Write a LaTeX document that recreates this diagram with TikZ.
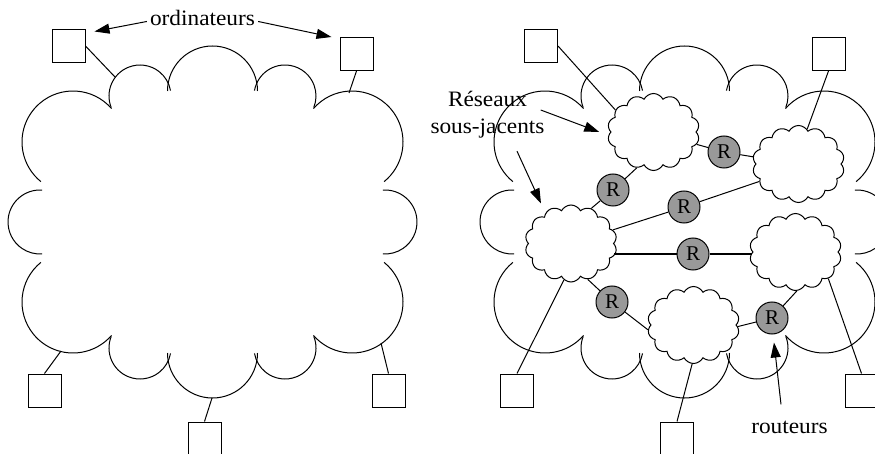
\documentclass[tikz,border=0pt]{standalone}
\usepackage{fontspec}
\setmainfont{Liberation Serif}
\newfontfamily\labelfont{Liberation Serif}[FakeStretch=1.06]
\usetikzlibrary{shapes.symbols, arrows.meta}

\definecolor{routergray}{gray}{0.6}

% one lobe of the large cloud: centre x, centre y, radius, start angle, end angle
\newcommand\cloudlobe[5]{%
  \draw[outline] (#1,#2) ++(#4:#3) arc[start angle=#4, end angle=#5, radius=#3];}

\tikzset{
  outline/.style={line width=1pt},
  wire/.style={line width=1pt},
  arr/.style={line width=1pt, -{Triangle[length=15pt, width=10pt]}},
  comp/.style={draw, line width=1pt, minimum size=33pt, inner sep=0pt},
  net/.style={cloud, cloud puffs=14, cloud puff arc=125, aspect=1.2, draw,
              line width=1pt, inner sep=0pt, minimum width=92pt, minimum height=77pt},
  router/.style={circle, draw, line width=1pt, fill=routergray, minimum size=32pt,
                 inner sep=0pt, font=\fontsize{21}{21}\selectfont},
  lbl/.style={font=\labelfont\fontsize{22}{27}\selectfont, inner sep=3pt},
  bigcloud/.pic={
    \cloudlobe{0}{131}{45}{180}{0}
    \cloudlobe{-72.5}{126}{31}{202}{10}
    \cloudlobe{72.5}{126}{31}{170}{-22}
    \cloudlobe{-139.5}{80}{51}{41}{231}
    \cloudlobe{139.5}{80}{51}{139}{-51}
    \cloudlobe{-172.5}{0}{32}{86}{274}
    \cloudlobe{172.5}{0}{32}{94}{-94}
    \cloudlobe{-139.5}{-80}{51}{129}{319}
    \cloudlobe{139.5}{-80}{51}{51}{-139}
    \cloudlobe{0}{-131}{45}{180}{360}
    \cloudlobe{-72.5}{-126}{31}{158}{350}
    \cloudlobe{72.5}{-126}{31}{22}{-170}
  },
}

\begin{document}
\begin{tikzpicture}[x=1pt, y=1pt]
\useasboundingbox (0,0) rectangle (875,453);
\clip (0,0) rectangle (875,453);

% ---------- left: a single network ----------
\pic at (212.5,231) {bigcloud};

\coordinate (eTL) at (115,376);
\coordinate (eTR) at (349,360);
\coordinate (eBL) at (61,102);
\coordinate (eBR) at (381,110);
\coordinate (eBM) at (212,55);

\node[comp] (cTL) at (68.5,407) {};
\node[comp] (cTR) at (356.5,399) {};
\node[comp] (cBL) at (44.5,62.5) {};
\node[comp] (cBR) at (388.5,62.5) {};
\node[comp] (cBM) at (204.5,14.5) {};

\draw[wire] (cTL.east) -- (eTL);
\draw[wire] (cTR.south) -- (eTR);
\draw[wire] (cBL.north) -- (eBL);
\draw[wire] (cBR.north) -- (eBR);
\draw[wire] (cBM.north) -- (eBM);

\node[lbl, anchor=base] (ord) at (202.5,427) {ordinateurs};
\draw[arr] ([yshift=-3pt]ord.west) -- ([xshift=9pt, yshift=-2.5pt]cTL.north east);
\draw[arr] ([yshift=-3pt]ord.east) -- ([xshift=-8pt]cTR.north west);

% ---------- right: interconnected networks ----------
\pic at (684.5,231) {bigcloud};

\node[net] (s1) at (653.5,321) {};
\node[net] (s2) at (798.5,289) {};
\node[net] (s3) at (571,209.5) {};
\node[net] (s4) at (795.5,201) {};
\node[net] (s5) at (693.5,128) {};

\node[router] (r1) at (724,301) {R};
\node[router] (r2) at (613,263) {R};
\node[router] (r3) at (684,246) {R};
\node[router] (r4) at (693,199) {R};
\node[router] (r5) at (612,151) {R};
\node[router] (r6) at (772,135) {R};

\draw[wire] (s1.-16) -- (r1) -- (s2.171);
\draw[wire] (s3.60) -- (r2) -- (s1.245);
\draw[wire] (s3.18) -- (r3) -- (s2.204);
\draw[wire, line width=1.6pt] (r4 -| s3.east) -- (r4) -- (r4 -| s4.west);
\draw[wire] (s3.-65) -- (r5) -- (s5.186);
\draw[wire] (s5.-2) -- (r6) -- (s4.-88);

\node[comp] (dTL) at (541,407) {};
\node[comp] (dTR) at (828.5,399) {};
\node[comp] (dBL) at (517,62.5) {};
\node[comp] (dBM) at (677,14.5) {};
\node[comp] (dBR) at (861.5,62.5) {};

\draw[wire] (dTL.east) -- (s1.150);
\draw[wire] (dTR.south) -- (s2.76);
\draw[wire] (dBL.north) -- (s3.259);
\draw[wire] (dBM.north) -- (s5.268);
\draw[wire] (dBR.north) -- (s4.-39);

\node[lbl, align=center] (sub) at (487.5,338) {Réseaux\\sous-jacents};
\draw[arr] ([xshift=-7pt, yshift=5pt]sub.east) -- ([xshift=-11pt]s1.west);
\draw[arr] ([xshift=29.5pt, yshift=-9.5pt]sub.south) -- ([xshift=-30pt, yshift=1pt]s3.north);

\node[lbl, anchor=base] (rout) at (789.5,20) {routeurs};
\draw[arr] ([xshift=-8.5pt, yshift=13pt]rout.north) -- ([xshift=2pt, yshift=-8pt]r6.south);
\end{tikzpicture}
\end{document}
